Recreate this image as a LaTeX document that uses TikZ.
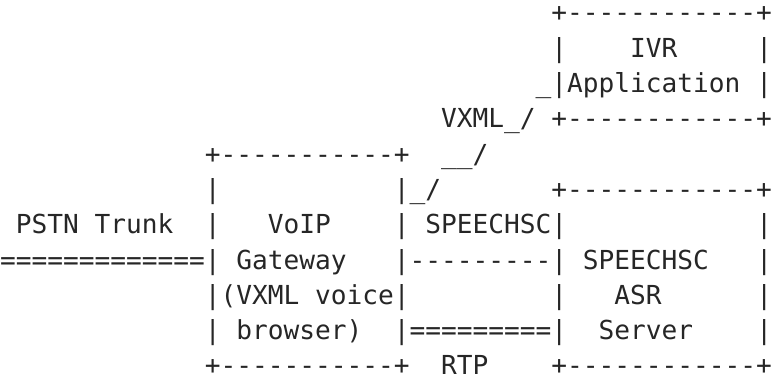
\documentclass[tikz,border=0pt]{standalone}
\usepackage{fontspec}
\setmonofont{DejaVu Sans Mono}
\tikzset{
  asc/.style={anchor=base west, inner sep=0pt, outer sep=0pt, text=black!85,
    font=\ttfamily\fontsize{26.17}{31}\selectfont},
}

\begin{document}
\begin{tikzpicture}[x=15.755pt, y=-35.3pt]
  \useasboundingbox (0,-0.623) rectangle (49,10.227);
  % IVR application box
  \node[asc] (ivrtop) at (35,0) {+------------+};
  \node[asc] (ivrla)  at (35,1) {|};
  \node[asc] (ivr)    at (40,1) {IVR};
  \node[asc] (ivrra)  at (48,1) {|};
  \node[asc] (ivrlb)  at (34,2) {\_|};
  \node[asc] (app)    at (36,2) {Application};
  \node[asc] (ivrrb)  at (48,2) {|};
  \node[asc] (ivrbot) at (35,3) {+------------+};
  % VXML link
  \node[asc] (vxml)   at (28,3) {VXML\_/};
  \node[asc] (vxmlb)  at (28,4) {\_\_/};
  \node[asc] (vxmlc)  at (25,5) {|\_/};
  % VoIP gateway box
  \node[asc] (gwtop)  at (13,4) {+-----------+};
  \node[asc] (gwla)   at (13,5) {|};
  \node[asc] (gwlb)   at (13,6) {|};
  \node[asc] (gwrb)   at (25,6) {|};
  \node[asc] (voip)   at (17,6) {VoIP};
  \node[asc] (pstn)   at (1,6)  {PSTN Trunk};
  \node[asc] (trunk)  at (0,7)  {=============|};
  \node[asc] (gw)     at (15,7) {Gateway};
  \node[asc] (gwvx)   at (13,8) {|(VXML voice|};
  \node[asc] (gwld)   at (13,9) {|};
  \node[asc] (brw)    at (15,9) {browser)};
  \node[asc] (gwbot)  at (13,10) {+-----------+};
  % links to the ASR server
  \node[asc] (sc)     at (27,6) {SPEECHSC|};
  \node[asc] (scline) at (25,7) {|---------|};
  \node[asc] (rtpmid) at (35,8) {|};
  \node[asc] (rtpline) at (25,9) {|=========|};
  \node[asc] (rtp)    at (28,10) {RTP};
  % SPEECHSC ASR server box
  \node[asc] (asrtop) at (35,5) {+------------+};
  \node[asc] (asrsc)  at (37,7) {SPEECHSC};
  \node[asc] (asr)    at (39,8) {ASR};
  \node[asc] (srv)    at (38,9) {Server};
  \foreach \r in {6,...,9}
    \node[asc] (asrr\r) at (48,\r) {|};
  \node[asc] (asrbot) at (35,10) {+------------+};
\end{tikzpicture}
\end{document}
